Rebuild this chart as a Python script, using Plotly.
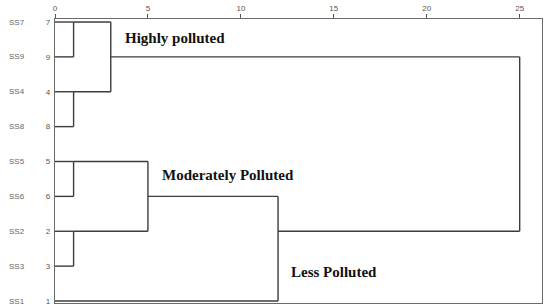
import math
import plotly.graph_objects as go

# ---- data ----
leaf_labels = ["SS7", "SS9", "SS4", "SS8", "SS5", "SS6", "SS2", "SS3", "SS1"]
leaf_numbers = ["7", "9", "4", "8", "5", "6", "2", "3", "1"]
# merges: (child_a, child_b, rescaled distance); leaves are 0..8, new clusters 9..
merge_a = [0, 2, 4, 6, 9, 11, 14, 13]
merge_b = [1, 3, 5, 7, 10, 12, 8, 15]
merge_dist = [1, 1, 1, 1, 3, 5, 12, 25]
x_ticks = [0, 5, 10, 15, 20, 25]
group_labels = ["Highly polluted", "Moderately Polluted", "Less Polluted"]

# ---- build dendrogram segments (SPSS style) ----
n = len(leaf_labels)
row = {i: i for i in range(n)}
height = {i: 0 for i in range(n)}
xs, ys = [], []
for k, (a, b, d) in enumerate(zip(merge_a, merge_b, merge_dist)):
    for c in (a, b):
        xs += [height[c], d, None]
        ys += [row[c], row[c], None]
    xs += [d, d, None]
    ys += [row[a], row[b], None]
    new = n + k
    row[new] = math.floor((row[a] + row[b]) / 2)
    height[new] = d

fig = go.Figure()
fig.add_trace(go.Scatter(x=xs, y=ys, mode="lines",
                         line=dict(color="#3c3c3c", width=1.4),
                         hoverinfo="skip", showlegend=False))

px_per_row = 34.9
fig.update_layout(
    width=550, height=308,
    margin=dict(l=55, r=8, t=19, b=5, autoexpand=False),
    paper_bgcolor="white", plot_bgcolor="white",
    showlegend=False,
    xaxis=dict(range=[0, 26.2], side="top", tickvals=x_ticks,
               ticktext=[str(t) for t in x_ticks], automargin=False,
               ticks="outside", ticklen=4, tickcolor="#555",
               tickfont=dict(family="Liberation Sans", size=8, color="#555"),
               showgrid=False, zeroline=False, showline=True,
               linecolor="#6a6a6a", linewidth=1.3, mirror=True),
    yaxis=dict(range=[8 + 2 / px_per_row, -3 / px_per_row],
               tickvals=list(range(n)), ticktext=leaf_numbers,
               ticks="", ticklabelstandoff=2, automargin=False,
               tickfont=dict(family="Liberation Sans", size=8, color="#555"),
               showgrid=False, zeroline=False, showline=True,
               linecolor="#6a6a6a", linewidth=1.3, mirror=True),
)

for i, lab in enumerate(leaf_labels):
    fig.add_annotation(x=-38 / 487, xref="paper", y=i, yref="y", text=lab,
                       showarrow=False, xanchor="center", yanchor="middle",
                       font=dict(family="Liberation Sans", size=8, color="#666"))

label_pos = [(3.65, 0.47), (5.65, 4.4), (12.6, 7.18)]
for txt, (lx, ly) in zip(group_labels, label_pos):
    fig.add_annotation(x=lx, y=ly, text="<b>%s</b>" % txt, showarrow=False,
                       xanchor="left", yanchor="middle",
                       font=dict(family="Liberation Serif", size=15, color="#111"))

fig.write_html("out.html", config={"displayModeBar": False},
               post_script="document.body.style.margin='0';document.body.style.overflow='hidden';")
